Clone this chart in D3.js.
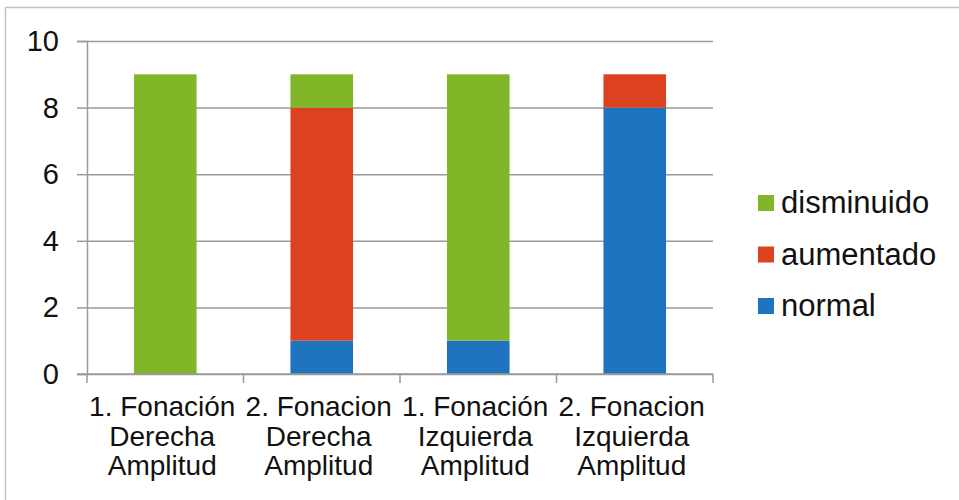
<!DOCTYPE html>
<html>
<head>
<meta charset="utf-8">
<script src="https://cdn.jsdelivr.net/npm/d3@7"></script>
<style>
  html, body { margin: 0; padding: 0; background: #fff; }
  svg { display: block; font-family: "Liberation Sans", Arial, sans-serif; }
</style>
</head>
<body>
<svg id="chart" width="959" height="500"></svg>
<script>
// Category labels, one entry per bar, split into display lines
const categoryLines = [
  ["1. Fonación", "Derecha", "Amplitud"],
  ["2. Fonacion", "Derecha", "Amplitud"],
  ["1. Fonación", "Izquierda", "Amplitud"],
  ["2. Fonacion", "Izquierda", "Amplitud"]
];
const categories = categoryLines.map(l => l.join(" "));

// Counts per category for each series
const normal     = [0, 1, 1, 8];
const aumentado  = [0, 7, 0, 1];
const disminuido = [9, 1, 8, 0];

// Series order (bottom to top) and legend order (top to bottom)
const seriesNames = ["normal", "aumentado", "disminuido"];
const legendNames = ["disminuido", "aumentado", "normal"];
const seriesColors = { normal: "#1e74be", aumentado: "#dd4220", disminuido: "#80b628" };

const yTicks = [0, 2, 4, 6, 8, 10];

const rows = categories.map((c, i) => ({
  category: c,
  normal: normal[i],
  aumentado: aumentado[i],
  disminuido: disminuido[i]
}));

const svg = d3.select("#chart");

// Outer chart frame
svg.append("path")
  .attr("d", "M5.5,500 V7.5 H959")
  .attr("fill", "none")
  .attr("stroke", "#c4c4c4")
  .attr("stroke-width", 1.5);

const plot = { left: 87, right: 713, top: 41, bottom: 374 };

const x = d3.scaleBand().domain(categories).range([plot.left, plot.right]).padding(0);
const y = d3.scaleLinear().domain([0, 10]).range([plot.bottom, plot.top]);

const gridColor = "#9a9a9a";

// Horizontal gridlines with left tick marks
const yAxis = d3.axisLeft(y).tickValues(yTicks).tickSize(10).tickFormat("");
const gy = svg.append("g").attr("transform", `translate(${plot.left},0)`).call(yAxis);
gy.select(".domain").attr("stroke", gridColor).attr("stroke-width", 1.5);
gy.selectAll(".tick line").attr("stroke", gridColor).attr("stroke-width", 1.5);
gy.selectAll(".tick").append("line")
  .attr("x1", 0).attr("x2", plot.right - plot.left)
  .attr("stroke", gridColor).attr("stroke-width", 1.5);

// Y tick labels
svg.append("g").selectAll("text")
  .data(yTicks)
  .join("text")
  .attr("x", 59)
  .attr("y", d => y(d) + 10)
  .attr("text-anchor", "end")
  .attr("font-size", 29)
  .attr("fill", "#111")
  .text(d => d);

// Stacked bars
const stack = d3.stack().keys(seriesNames);
const layers = stack(rows);
const barW = x.bandwidth() * 0.4;

svg.append("g").selectAll("g")
  .data(layers)
  .join("g")
  .attr("fill", d => seriesColors[d.key])
  .selectAll("rect")
  .data(d => d)
  .join("rect")
  .attr("x", d => x(d.data.category) + (x.bandwidth() - barW) / 2)
  .attr("y", d => y(d[1]))
  .attr("width", barW)
  .attr("height", d => y(d[0]) - y(d[1]));

// X axis line with boundary ticks
const xBoundaries = categories.map(c => x(c)).concat([plot.right]);
const gx = svg.append("g");
gx.append("line")
  .attr("x1", plot.left - 10).attr("x2", plot.right)
  .attr("y1", plot.bottom).attr("y2", plot.bottom)
  .attr("stroke", gridColor).attr("stroke-width", 1.5);
gx.selectAll("line.tick")
  .data(xBoundaries)
  .join("line")
  .attr("class", "tick")
  .attr("x1", d => d).attr("x2", d => d)
  .attr("y1", plot.bottom).attr("y2", plot.bottom + 9)
  .attr("stroke", gridColor).attr("stroke-width", 1.5);

// X category labels
const lineBase = [42, 72, 101];
const xl = svg.append("g").selectAll("g")
  .data(categoryLines.map((lines, i) => ({ lines, cat: categories[i] })))
  .join("g");
xl.selectAll("text")
  .data(d => d.lines.map((t, j) => ({ t, j, cat: d.cat })))
  .join("text")
  .attr("x", d => x(d.cat) + x.bandwidth() / 2 - 3)
  .attr("y", d => plot.bottom + lineBase[d.j])
  .attr("text-anchor", "middle")
  .attr("font-size", 28)
  .attr("fill", "#111")
  .text(d => d.t);

// Legend
const legend = svg.append("g").selectAll("g")
  .data(legendNames)
  .join("g")
  .attr("transform", (d, i) => `translate(758,${213 + i * 51.5})`);
legend.append("rect")
  .attr("x", 0).attr("y", -18)
  .attr("width", 16).attr("height", 16)
  .attr("fill", d => seriesColors[d]);
legend.append("text")
  .attr("x", 23)
  .attr("font-size", 31)
  .attr("fill", "#111")
  .text(d => d);
</script>
</body>
</html>
